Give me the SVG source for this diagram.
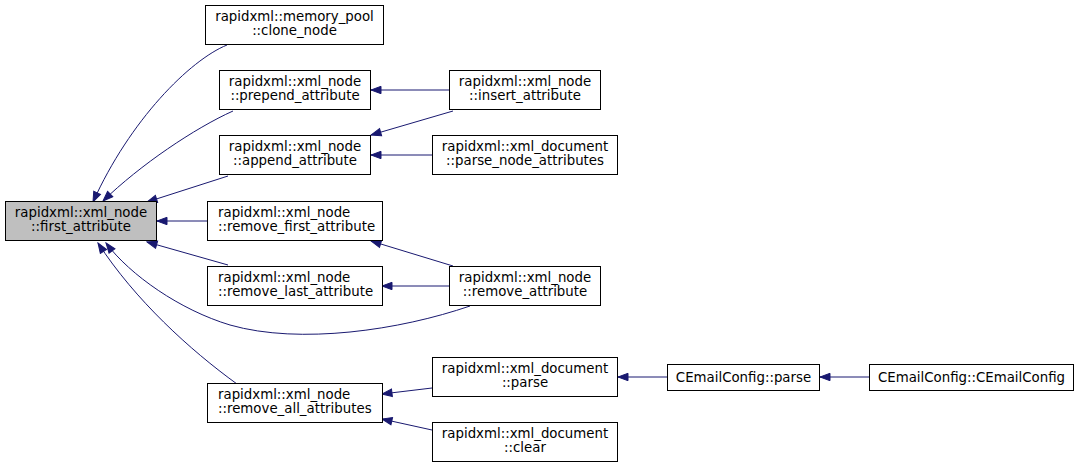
<svg xmlns="http://www.w3.org/2000/svg" width="1080" height="468" viewBox="0 0 1080 468">
<style>
.n rect{fill:#fff;stroke:#000;stroke-width:1}
.n.f rect{fill:#bfbfbf}
.n text{font-family:"DejaVu Sans",sans-serif;font-size:13.33px;fill:#000}
.m{text-anchor:middle}
.e path{fill:none;stroke:#191970;stroke-width:1;marker-end:url(#ah)}
</style>
<defs>
<marker id="ah" markerUnits="userSpaceOnUse" markerWidth="12" markerHeight="10" viewBox="0 0 12 10" refX="11" refY="5" orient="auto">
<path d="M1,1.3 L11,5 L1,8.7 z" fill="#191970" stroke="#191970" stroke-width="1"/>
</marker>
</defs>
<rect width="1080" height="468" fill="#fff"/>
<g id="edges" class="e">
<path d="M227,45 C190,60 130,120 93,202"/>
<path d="M233,111 C195,128 140,165 103,201"/>
<path d="M228,176 L147,202"/>
<path d="M207,221 L157,221"/>
<path d="M228,265 L147,242"/>
<path d="M470,306 C400,330 300,345 230,325 C180,310 130,275 106,243"/>
<path d="M237,384 C190,350 135,300 98,243"/>
<path d="M449,90 L371,90"/>
<path d="M453,111 L371,135"/>
<path d="M432,155 L371,155"/>
<path d="M453,266 L371,241"/>
<path d="M449,286 L382,286"/>
<path d="M432,388 L382,394"/>
<path d="M432,430 L382,419"/>
<path d="M667,377 L618,377"/>
<path d="M869,377 L820,377"/>
</g>
<g id="first_attribute" class="n f"><rect x="5.5" y="201.5" width="151" height="39"/><text class="m" x="81" y="217">rapidxml::xml_node</text><text class="m" x="81" y="231">::first_attribute</text></g>
<g id="clone_node" class="n"><rect x="205.5" y="5.5" width="178" height="39"/><text class="m" x="294.5" y="21">rapidxml::memory_pool</text><text class="m" x="294.5" y="35">::clone_node</text></g>
<g id="prepend_attribute" class="n"><rect x="219.5" y="70.5" width="151" height="39"/><text class="m" x="295" y="86">rapidxml::xml_node</text><text class="m" x="295" y="100">::prepend_attribute</text></g>
<g id="append_attribute" class="n"><rect x="219.5" y="135.5" width="151" height="39"/><text class="m" x="295" y="151">rapidxml::xml_node</text><text class="m" x="295" y="165">::append_attribute</text></g>
<g id="remove_first_attribute" class="n"><rect x="207.5" y="201.5" width="175" height="39"/><text x="218" y="217">rapidxml::xml_node</text><text x="218" y="231">::remove_first_attribute</text></g>
<g id="remove_last_attribute" class="n"><rect x="207.5" y="266.5" width="175" height="39"/><text x="218" y="282">rapidxml::xml_node</text><text x="218" y="296">::remove_last_attribute</text></g>
<g id="remove_all_attributes" class="n"><rect x="207.5" y="383.5" width="175" height="39"/><text x="218" y="399">rapidxml::xml_node</text><text x="218" y="413">::remove_all_attributes</text></g>
<g id="insert_attribute" class="n"><rect x="449.5" y="70.5" width="151" height="39"/><text class="m" x="525" y="86">rapidxml::xml_node</text><text class="m" x="525" y="100">::insert_attribute</text></g>
<g id="parse_node_attributes" class="n"><rect x="432.5" y="135.5" width="185" height="39"/><text class="m" x="525" y="151">rapidxml::xml_document</text><text class="m" x="525" y="165">::parse_node_attributes</text></g>
<g id="remove_attribute" class="n"><rect x="449.5" y="266.5" width="151" height="39"/><text class="m" x="525" y="282">rapidxml::xml_node</text><text class="m" x="525" y="296">::remove_attribute</text></g>
<g id="doc_parse" class="n"><rect x="432.5" y="357.5" width="185" height="39"/><text class="m" x="525" y="373">rapidxml::xml_document</text><text class="m" x="525" y="387">::parse</text></g>
<g id="doc_clear" class="n"><rect x="432.5" y="422.5" width="185" height="39"/><text class="m" x="525" y="438">rapidxml::xml_document</text><text class="m" x="525" y="452">::clear</text></g>
<g id="cemail_parse" class="n"><rect x="667.5" y="364.5" width="152" height="26"/><text class="m" x="743.5" y="382">CEmailConfig::parse</text></g>
<g id="cemail_ctor" class="n"><rect x="869.5" y="364.5" width="204" height="26"/><text class="m" x="971.5" y="382">CEmailConfig::CEmailConfig</text></g>
</svg>
